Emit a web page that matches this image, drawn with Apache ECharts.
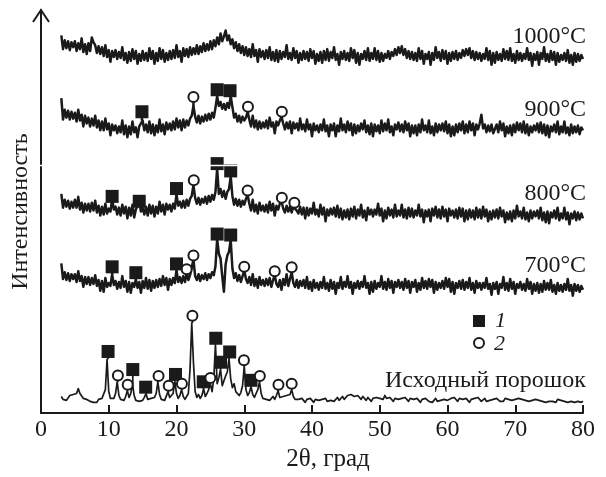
<!DOCTYPE html>
<html><head><meta charset="utf-8">
<script src="https://cdn.jsdelivr.net/npm/echarts@6/dist/echarts.min.js"></script>
<style>html,body{margin:0;padding:0;background:#fff}#c{width:606px;height:477px}</style>
</head><body><div id="c"></div>
<script>
// ---- data ----
const xTickValues = [0, 10, 20, 30, 40, 50, 60, 70, 80];
const angleStart = 3, angleStep = 0.25;   // 2θ sampling of every pattern (3°…80°)

const trace1000 = [
 386,372,381,373,380,371,379,374,
 380,370,378,372,383,369,377,367,
 378,370,384,379,376,368,375,367,
 374,365,376,364,371,359,370,364,
 371,362,369,363,374,361,368,358,
 369,360,372,362,370,357,367,360,
 370,361,368,360,373,362,370,357,
 368,360,373,362,371,359,368,361,
 370,362,371,363,376,364,370,359,
 373,365,372,364,374,366,373,367,
 376,367,375,369,378,370,377,371,
 380,372,381,375,384,377,388,380,
 385,391,381,386,377,382,373,379,
 370,377,368,375,366,374,365,372,
 364,377,365,371,359,372,364,370,
 362,371,363,374,361,369,360,371,
 359,370,362,369,364,376,362,368,
 361,373,363,370,358,368,361,370,
 362,369,360,372,363,370,357,367,
 360,369,358,370,361,372,360,369,
 363,374,361,367,356,369,362,370,
 361,368,360,373,363,371,358,368,
 356,367,362,370,361,373,360,368,
 362,373,361,370,359,368,360,367,
 363,370,362,369,365,372,366,374,
 368,375,366,372,363,370,362,369,
 361,368,360,373,362,370,357,367,
 362,369,356,368,361,374,363,369,
 360,371,362,370,357,368,360,369,
 362,370,361,368,363,371,365,372,
 366,373,363,370,361,369,362,368,
 360,367,362,373,361,370,356,368,
 358,369,361,367,360,372,362,370,
 361,373,360,367,358,370,361,368,
 360,367,362,373,361,368,355,367,
 361,369,356,368,362,374,360,367,
 359,370,361,369,356,368,359,366,
 361,368,360,371,358,366,356,368,
 359,367,360,366,362];

const trace900 = [
 322,300,310,302,309,300,308,301,
 307,298,310,299,305,293,304,296,
 302,293,301,294,304,292,299,289,
 298,289,301,290,296,284,295,289,
 294,286,293,287,299,285,294,282,
 293,285,298,287,292,282,293,292,
 299,289,295,287,298,286,295,284,
 294,287,300,288,295,285,297,290,
 296,289,298,290,301,292,299,289,
 300,292,299,294,301,304,314,303,
 297,304,296,303,298,305,299,306,
 300,307,302,312,324,314,318,311,
 316,310,317,312,324,313,302,306,
 298,304,297,303,299,302,308,300,
 293,304,292,299,290,298,291,297,
 292,299,291,302,293,297,286,298,
 294,299,303,296,290,297,291,298,
 286,297,291,296,289,301,290,295,
 288,300,290,295,283,296,289,294,
 287,295,289,300,288,294,283,295,
 289,296,283,294,288,301,289,295,
 287,298,289,296,284,295,286,294,
 288,296,290,299,287,294,285,296,
 283,295,288,294,286,299,288,296,
 289,300,287,293,284,295,290,297,
 288,295,287,298,289,296,283,294,
 286,294,284,295,287,300,289,294,
 287,299,286,293,284,296,287,295,
 289,296,288,298,286,295,283,293,
 284,295,287,296,289,298,286,295,
 287,298,289,296,284,295,290,296,
 305,291,295,287,294,288,295,286,
 288,295,287,298,289,296,283,293,
 286,294,284,295,287,297,289,296,
 287,298,286,295,284,293,287,294,
 289,296,287,297,286,295,284,294,
 282,293,288,295,287,298,285,293,
 287,298,286,292,284,295,286,293,
 287,294,285,292,289];

const trace800 = [
 224,210,218,211,217,209,216,210,
 218,210,221,208,215,205,214,207,
 214,206,215,207,217,205,212,202,
 211,203,214,204,209,206,219,208,
 211,203,210,202,213,204,211,199,
 210,202,213,200,208,207,216,206,
 210,203,211,202,213,204,212,201,
 211,204,216,206,213,203,214,208,
 213,206,214,209,224,212,216,210,
 217,210,218,212,219,222,233,220,
 214,220,213,219,215,221,214,222,
 216,223,218,226,250,224,229,221,
 227,219,226,229,242,222,213,219,
 212,218,211,217,213,219,223,214,
 207,218,206,213,204,215,207,212,
 206,213,205,216,207,214,202,212,
 208,214,217,209,205,212,206,211,
 205,211,213,207,204,211,203,210,
 199,210,202,209,204,215,203,208,
 201,213,203,210,196,208,202,209,
 203,210,201,212,200,209,198,207,
 200,208,198,209,201,211,199,208,
 202,213,200,207,197,210,203,208,
 201,208,203,214,202,209,196,207,
 199,210,202,208,200,213,201,207,
 202,213,200,208,199,210,201,209,
 200,207,202,213,201,208,195,207,
 201,208,196,209,202,211,200,208,
 199,211,201,208,196,209,202,207,
 200,208,199,210,201,209,196,207,
 198,208,200,207,198,210,200,208,
 199,211,201,208,196,206,198,207,
 200,208,199,210,201,207,195,205,
 198,206,196,207,199,212,201,206,
 199,210,198,205,196,207,199,206,
 201,207,199,210,197,205,195,206,
 194,205,200,207,199,210,197,204,
 199,210,198,205,193,204,199,206,
 197,205,198,204,199];

const trace700 = [
 153,137,144,136,143,135,142,137,
 142,134,145,135,140,129,139,132,
 139,131,138,132,141,130,136,125,
 135,124,138,129,133,130,142,131,
 135,127,134,128,140,129,135,124,
 134,123,133,129,137,128,134,123,
 135,128,138,127,136,125,135,128,
 136,129,137,130,140,131,138,126,
 137,131,138,133,146,134,139,133,
 140,134,143,136,141,139,157,140,
 136,142,135,141,137,143,136,142,
 138,144,141,150,178,163,158,140,
 124,152,161,165,177,148,138,143,
 135,141,134,140,146,137,133,139,
 131,142,130,137,128,139,131,136,
 130,137,131,138,129,136,141,132,
 129,136,126,137,131,142,130,137,
 144,133,129,136,128,135,130,136,
 128,139,127,134,125,136,128,133,
 126,134,128,139,127,133,125,136,
 127,134,122,133,128,139,127,134,
 129,140,128,134,122,133,128,135,
 127,134,129,140,128,133,122,134,
 124,135,127,133,129,140,127,134,
 126,137,128,135,123,134,129,136,
 128,134,126,137,128,135,123,134,
 129,136,124,133,126,138,128,135,
 127,137,129,136,123,134,126,133,
 128,135,127,138,129,137,124,134,
 122,133,128,135,127,136,126,134,
 128,138,126,133,123,135,128,133,
 126,133,128,138,127,132,121,133,
 127,134,122,132,128,139,126,133,
 125,137,127,134,122,132,128,134,
 126,132,125,137,127,134,122,132,
 125,133,123,132,124,135,126,133,
 126,136,124,131,122,133,125,131,
 124,132,126,137,125,131,120,132,
 125,131,124,130,126];

const traceInitial = [17,14,16,13,15,18,16,19,17,20,
 25,20,18,15,17,14,15,12,14,11,
 13,11,14,12,15,17,24,55,22,15,
 13,15,20,32,18,14,16,13,17,23,
 16,20,30,18,13,15,12,14,13,16,
 20,14,12,15,13,16,20,32,19,14,
 16,13,15,22,16,15,20,33,20,15,
 18,24,17,14,16,20,45,92,52,22,
 16,19,15,18,25,17,20,24,30,22,
 35,70,30,36,45,28,33,38,42,56,
 35,26,30,22,20,18,21,28,48,24,
 18,21,27,19,16,20,24,32,20,15,
 17,14,16,13,15,17,14,18,23,16,
 14,17,15,18,16,19,24,17,14,12,
 14,12,15,13,11,14,12,15,13,11,
 14,12,13,11,14,13,15,12,14,13,
 15,12,14,16,13,15,17,14,16,18,
 16,19,21,17,15,18,16,14,17,15,
 13,16,14,12,15,13,16,14,15,17,
 14,18,15,13,16,14,12,15,13,14,
 12,15,13,16,14,12,15,13,14,12,
 15,13,11,14,12,15,13,12,14,11,
 13,15,12,14,13,11,14,16,13,12,
 15,13,16,14,12,15,13,14,12,15,
 13,11,14,12,15,13,16,14,12,13,
 15,12,14,13,11,14,12,15,13,12,
 14,12,15,13,14,12,13,11,14,12,
 15,13,14,12,13,15,12,14,13,11,
 14,12,13,15,12,14,11,13,12,14,
 12,13,11,14,12,13,15,12,14,11,
 13,12,14,11,13,12,13,11,12];

// markers: [2θ, marker height, peak height under it]
const squares900 = [[14.9,308,299],[26.0,330.5,324],[27.9,329.5,324]];
const circles900 = [[22.5,323,314],[30.55,313,308],[35.55,308,303]];
const squares800 = [[10.5,221.5,219],[14.5,216.5,216],[20.0,229.5,224],[26.0,255,250],[28.0,247.5,242]];
const circles800 = [[22.55,238,233],[30.5,227.5,223],[35.55,220,217],[37.4,215,213]];
const squares700 = [[10.5,149.5,142],[14.0,143.5,137],[20.0,152.5,146],[26.0,183,178],[28.0,182,177]];
const circles700 = [[21.5,147,143],[22.5,161,157],[30.0,149.5,146],[34.5,145,141],[37.0,149,144]];
const squaresInitial = [[9.9,63,55],[13.55,44.5,30],[15.45,26.5,20],[19.85,39.5,33],[23.95,32,25],[25.8,76.5,70],[26.5,52,45],[27.85,62.5,56],[31.0,33.5,27]];
const circlesInitial = [[11.35,38.5,32],[12.8,29,23],[17.35,38,32],[18.85,28,22],[20.8,30,24],[22.35,99.5,92],[25.0,36,30],[29.95,54,48],[32.3,38,32],[35.05,29,23],[37.0,30,24]];

const labelTexts = ['1000°C', '900°C', '800°C', '700°C', 'Исходный порошок'];
const labelHeights = [385, 310, 224, 151, 33];
const legendTexts = ['1', '2'];

// ---- chart ----
const INK = '#1a1a1a';
const FONT = '"Liberation Serif", "Times New Roman", serif';
const G = { left: 41, right: 23, top: 10, bottom: 55 };

function toPairs(arr) { return arr.map((v, i) => [angleStart + i * angleStep, v]); }

function lineSeries(arr, lw) {
  return { type: 'line', data: toPairs(arr), showSymbol: false, symbol: 'none',
    silent: true, animation: false, z: 2,
    lineStyle: { color: INK, width: lw, join: 'round' } };
}

function markerSeries(squares, circles, lw) {
  const data = squares.map(d => [d[0], d[1], d[2], 0]).concat(circles.map(d => [d[0], d[1], d[2], 1]));
  return { type: 'custom', data, z: 5, silent: true, animation: false, clip: false,
    encode: { x: 0, y: 1 },
    renderItem(params, api) {
      const kind = api.value(3);
      const c = api.coord([api.value(0), api.value(1)]);
      const b = api.coord([api.value(0), api.value(2)]);
      const half = kind === 0 ? 6.5 : 6;
      const children = [];
      if (b[1] > c[1] + half) children.push({ type: 'line', shape: { x1: c[0], y1: c[1] + half - 1, x2: c[0], y2: b[1] }, style: { stroke: INK, lineWidth: lw } });
      if (kind === 0) children.push({ type: 'rect', shape: { x: c[0] - 6.5, y: c[1] - 6.5, width: 13, height: 13 }, style: { fill: INK } });
      else children.push({ type: 'circle', shape: { cx: c[0], cy: c[1], r: 5 }, style: { fill: '#fff', stroke: INK, lineWidth: 2 } });
      return { type: 'group', children };
    } };
}

const labelSeries = { type: 'custom', z: 6, silent: true, animation: false, clip: false,
  data: labelTexts.map((t, i) => [80, labelHeights[i]]), encode: { x: 0, y: 1 },
  renderItem(params, api) {
    const p = api.coord([api.value(0), api.value(1)]);
    return { type: 'text', x: p[0] + 3, y: p[1],
      style: { text: labelTexts[params.dataIndex], fill: INK, fontSize: 24, fontFamily: FONT, align: 'right', verticalAlign: 'middle' } };
  } };

const chart = echarts.init(document.getElementById('c'), null, { renderer: 'canvas' });
chart.setOption({
  animation: false,
  backgroundColor: '#fff',
  grid: { left: G.left, right: G.right, top: G.top, bottom: G.bottom, containLabel: false },
  xAxis: { type: 'value', min: xTickValues[0], max: xTickValues[xTickValues.length - 1], interval: 10,
    name: '2θ, град', nameLocation: 'middle', nameGap: 27,
    nameTextStyle: { fontSize: 25, fontFamily: FONT, color: INK, padding: [0, 0, 0, 32] },
    axisLine: { lineStyle: { color: INK, width: 2 } },
    axisTick: { inside: true, length: 8, lineStyle: { color: INK, width: 2 } },
    axisLabel: { fontSize: 24, fontFamily: FONT, color: INK, margin: 5 },
    splitLine: { show: false } },
  yAxis: { type: 'value', min: 0, max: 412,
    name: 'Интенсивность', nameLocation: 'middle', nameGap: 8,
    nameTextStyle: { fontSize: 24, fontFamily: FONT, color: INK, padding: [0, 0, 0, 0] },
    axisLine: { show: true, lineStyle: { color: INK, width: 2 } },
    axisTick: { show: false }, axisLabel: { show: false }, splitLine: { show: false } },
  graphic: [
    { type: 'polyline', z: 50, shape: { points: [[G.left - 8, G.top + 12], [G.left, G.top], [G.left + 8, G.top + 12]] },
      style: { stroke: INK, lineWidth: 2, fill: null } },
    { type: 'line', z: 60, shape: { x1: 30, y1: 165.5, x2: 590, y2: 165.5 }, style: { stroke: '#fff', lineWidth: 1.5 } },
    { type: 'rect', z: 50, shape: { x: 473, y: 315, width: 12, height: 12 }, style: { fill: INK } },
    { type: 'text', z: 50, x: 495, y: 321, style: { text: legendTexts[0], fill: INK, fontSize: 22, fontStyle: 'italic', fontFamily: FONT, verticalAlign: 'middle' } },
    { type: 'circle', z: 50, shape: { cx: 479, cy: 343, r: 5 }, style: { fill: '#fff', stroke: INK, lineWidth: 2 } },
    { type: 'text', z: 50, x: 494, y: 344, style: { text: legendTexts[1], fill: INK, fontSize: 22, fontStyle: 'italic', fontFamily: FONT, verticalAlign: 'middle' } }
  ],
  series: [
    lineSeries(trace1000, 2.5),
    lineSeries(trace900, 2.5),
    lineSeries(trace800, 2.5),
    lineSeries(trace700, 2.5),
    lineSeries(traceInitial, 1.7),
    markerSeries(squares900, circles900, 2.5),
    markerSeries(squares800, circles800, 2.5),
    markerSeries(squares700, circles700, 2.5),
    markerSeries(squaresInitial, circlesInitial, 1.7),
    labelSeries
  ]
});
</script>
</body></html>
